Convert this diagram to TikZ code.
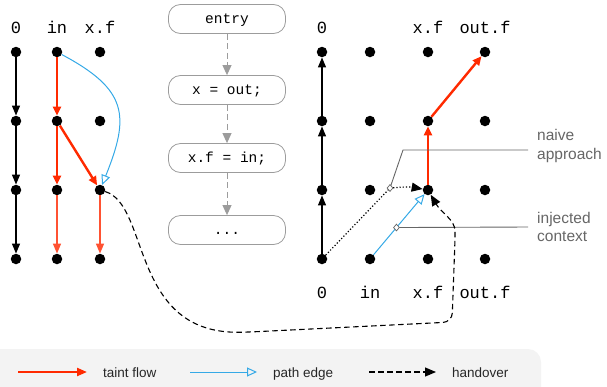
\documentclass[tikz,border=0pt]{standalone}
\usepackage{fontspec}
\setmainfont{Liberation Sans}
\setmonofont{Liberation Mono}
\usetikzlibrary{arrows.meta,positioning,shapes.geometric}
\definecolor{taintred}{HTML}{FF2A00}
\definecolor{taintlight}{HTML}{FF5232}
\definecolor{pathblue}{HTML}{35A9E6}
\definecolor{boxgray}{HTML}{9C9C9C}
\definecolor{legendbg}{HTML}{F3F3F3}
\definecolor{notegray}{HTML}{666666}

\begin{document}
\begin{tikzpicture}
[x=1pt, y=-1pt,
 dot/.style = {circle, fill=black, inner sep=0pt, minimum size=10.5pt},
 lbl/.style = {font=\ttfamily\fontsize{17}{17}\selectfont, inner sep=0pt, anchor=base},
 stmt/.style = {draw=boxgray, line width=0.8pt, rounded corners=12pt,
   minimum width=117pt, minimum height=29pt, text height=10pt, text depth=2pt,
   font=\ttfamily\fontsize{14.5}{14.5}\selectfont},
 cfg/.style = {boxgray, line width=0.9pt, dash pattern=on 6pt off 3.5pt,
   -{Triangle[length=10pt,width=9pt]}},
 flow/.style = {line width=1.3pt, -{Triangle[length=10pt,width=8pt]}},
 taint/.style = {taintred, line width=2.4pt, -{Triangle[length=9pt,width=8pt]}},
 taintlow/.style = {taintlight, line width=1.5pt, -{Triangle[length=10pt,width=8pt]}},
 pathedge/.style = {pathblue, line width=1pt, -{Triangle[open,length=10pt,width=9pt]}},
 handover/.style = {line width=1.1pt, dash pattern=on 5.5pt off 3.5pt,
   -{Triangle[length=11pt,width=9pt]}},
 naive/.style = {line width=1.2pt, dotted, -{Triangle[length=11pt,width=9pt]}},
 callmark/.style = {diamond, draw=notegray, fill=white, line width=0.7pt,
   inner sep=0pt, minimum width=6pt, minimum height=7pt},
 callline/.style = {notegray, line width=0.9pt},
 note/.style = {font=\fontsize{15.5}{18.5}\selectfont, text=notegray, align=left,
   anchor=west, inner sep=0pt},
 legtext/.style = {font=\fontsize{13.5}{13.5}\selectfont, text=black!85, anchor=base west, inner sep=0pt}]

\useasboundingbox (0,0) rectangle (607,386);

% legend background
\fill[legendbg, rounded corners=13pt] (-20,349) rectangle (541,410);

% exploded super graph, callee side
\foreach \c/\x in {z/16, in/57, xf/100}
  \foreach \r/\y in {1/52, 2/121, 3/190, 4/259}
    \node[dot] (l\c\r) at (\x,\y) {};
\node[lbl] at (16,33) {0};
\node[lbl] at (57,33) {in};
\node[lbl] at (100,33) {x.f};

\draw[flow] (lz1) -- (lz2);
\draw[flow] (lz2) -- (lz3);
\draw[flow] (lz3) -- (lz4);
\draw[taint] (lin1) -- (lin2);
\draw[taint] (lin2) -- (lin3);
\draw[taint] (lin2) -- (lxf3);
\draw[taintlow] (lin3) -- (lin4);
\draw[taintlow] (lxf3) -- (lxf4);
\draw[pathedge] (lin1) to[out=-28, in=68, looseness=1.4] (lxf3);

% control flow of the method
\node[stmt] (entry) at (227,19) {entry};
\node[stmt] (assign) at (227,90) {x = out;};
\node[stmt] (store) at (227,158) {x.f = in;};
\node[stmt] (rest) at (227,230) {...};
\draw[cfg] (entry) -- (assign);
\draw[cfg] (assign) -- (store);
\draw[cfg] (store) -- (rest);

% exploded super graph, caller side
\foreach \c/\x in {z/322, in/370, xf/428, out/485}
  \foreach \r/\y in {1/52, 2/121, 3/190, 4/259}
    \node[dot] (r\c\r) at (\x,\y) {};
\node[lbl] at (322,33) {0};
\node[lbl] at (428,33) {x.f};
\node[lbl] at (485,33) {out.f};
\node[lbl] at (322,298) {0};
\node[lbl] at (370,298) {in};
\node[lbl] at (428,298) {x.f};
\node[lbl] at (485,298) {out.f};

\draw[flow] (rz4) -- (rz3);
\draw[flow] (rz3) -- (rz2);
\draw[flow] (rz2) -- (rz1);
\draw[taint] (rxf3) -- (rxf2);
\draw[taint] (rxf2) -- (rout1);

% naive approach vs. injected context
\coordinate (naivept) at (390,188);
\draw[naive] (rz4) -- (naivept) to[out=5, in=170] (rxf3);
\draw[pathedge] (rin4) -- coordinate[pos=0.45] (injpt) (rxf3);

\coordinate (naivebend) at (403,150);
\coordinate (naiveend) at (528,150);
\coordinate (injend) at (528,227);
\draw[callline] (naivept) -- (naivebend) -- (naiveend);
\draw[callline] (injpt) -- (injend);
\node[callmark] at (naivept) {};
\node[callmark] at (injpt) {};
\node[note] (naivetxt) at (537,146) {naive\\approach};
\node[note] (injtxt) at (537,227) {injected\\context};

% handover from callee to caller
\coordinate (hb1) at (250,332);
\coordinate (hb2) at (452,322);
\coordinate (hb3) at (455,240);
\draw[handover, rounded corners=9pt] (lxf3) .. controls (150,205) and (130,335) .. (hb1)
  -- (hb2) -- (hb3) to[out=90, in=-60] (rxf3);

% legend
\coordinate (lga1) at (18,372);  \coordinate (lga2) at (87,372);
\coordinate (lgb1) at (190,372); \coordinate (lgb2) at (257,372);
\coordinate (lgc1) at (369,372); \coordinate (lgc2) at (436,372);
\draw[taintred, line width=2.2pt, -{Triangle[length=10pt,width=8pt]}] (lga1) -- (lga2);
\draw[pathedge] (lgb1) -- (lgb2);
\draw[handover] (lgc1) -- (lgc2);
\node[legtext] at (103,377) {taint flow};
\node[legtext] at (273,377) {path edge};
\node[legtext] at (452,377) {handover};
\end{tikzpicture}
\end{document}
